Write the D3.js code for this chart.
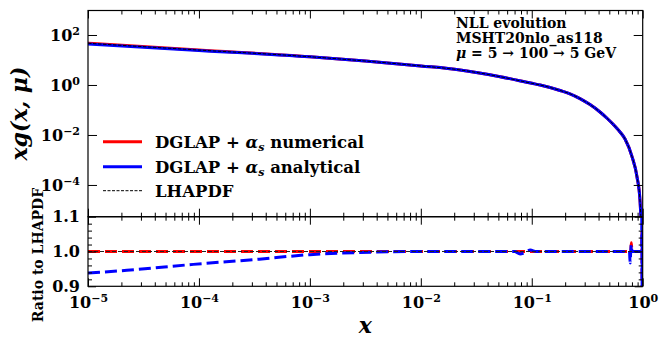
<!DOCTYPE html>
<html>
<head>
<meta charset="utf-8">
<script src="https://cdn.jsdelivr.net/npm/d3@7"></script>
<style>
  body { margin: 0; background: #fff; }
  text { font-family: "DejaVu Serif", serif; font-weight: bold; }
</style>
</head>
<body>
<svg id="chart" width="659" height="337"></svg>
<script>
// values
const xPoints = [1e-5, 1e-4, 1e-3, 3.16e-3, 1e-2, 0.0226, 0.0519, 0.1, 0.119, 0.18, 0.221, 0.272, 0.335, 0.412, 0.477, 0.563, 0.624, 0.693, 0.801, 0.888, 0.945, 0.98];
const xgNumerical = [46.6, 25, 13.5, 9.1, 5.8, 4.0, 2.14, 1.17, 1.0, 0.603, 0.445, 0.286, 0.164, 0.0832, 0.0466, 0.0223, 0.0132, 0.0069, 0.00136, 0.000215, 2.5e-5, 1e-6];
const xgAnalytical = [43.8, 24.1, 13.4, 9.1, 5.8, 4.0, 2.14, 1.17, 1.0, 0.603, 0.445, 0.286, 0.164, 0.0832, 0.0466, 0.0223, 0.0132, 0.0069, 0.00136, 0.000215, 2.5e-5, 1e-6];
const xgLhapdf = [46.6, 25, 13.5, 9.1, 5.8, 4.0, 2.14, 1.17, 1.0, 0.603, 0.445, 0.286, 0.164, 0.0832, 0.0466, 0.0223, 0.0132, 0.0069, 0.00136, 0.000215, 2.5e-5, 1e-6];

const ratioX = [1e-5, 2.24e-5, 8.9e-5, 3.5e-4, 1e-3, 2.8e-3, 1e-2, 0.05, 0.07, 0.0785, 0.088, 0.097, 0.11, 0.3, 0.6, 0.74, 0.76, 0.77, 0.78, 0.79, 0.80, 0.83, 0.9, 0.95, 0.98, 0.983, 0.986, 0.99];
const ratioNumerical = [1, 1, 1, 1, 1, 1, 1, 1, 1, 1, 1, 1, 1, 1, 1, 1, 1, 1, 1, 1.025, 1, 1, 1, 1, 1, 1.0, 1.06, 0.5];
const ratioAnalytical = [0.938, 0.946, 0.963, 0.978, 0.991, 0.997, 1, 1, 1, 0.993, 0.998, 1.004, 1, 1, 1, 1, 1, 0.967, 1, 1.02, 1, 1, 1, 1, 1, 1.3, 0.7, 1.3];
const ratioLhapdf = [1, 1, 1, 1, 1, 1, 1, 1, 1, 1, 1, 1, 1, 1, 1, 1, 1, 1, 1, 1, 1, 1, 1, 1, 1, 1, 1, 1];

const xMajor = [1e-5, 1e-4, 1e-3, 1e-2, 1e-1, 1];
const yMajorTop = [1e-4, 1e-2, 1, 1e2];
const yMajorRatio = [0.9, 1.0, 1.1];
const yMinorRatio = [0.92, 0.94, 0.96, 0.98, 1.02, 1.04, 1.06, 1.08];

const legendLabels = ["numerical", "analytical"];
const noteLines = ["NLL evolution", "MSHT20nlo_as118"];

const left = 88, right = 642.7;
const top1 = 10.5, bot1 = 216.7, bot2 = 286.3;

const svg = d3.select("#chart");

const x = d3.scaleLog().domain([1e-5, 1]).range([left, right]);
const y = d3.scaleLog().domain([Math.pow(10, -5.27), Math.pow(10, 2.98)]).range([bot1, top1]);
const yr = d3.scaleLinear().domain([0.9, 1.1]).range([bot2, bot1]);

const xMinor = [];
for (let e = -5; e < 0; e++) for (let k = 2; k < 10; k++) xMinor.push(k * Math.pow(10, e));

// clip areas
const defs = svg.append("defs");
defs.append("clipPath").attr("id", "clipTop").append("rect")
  .attr("x", left).attr("y", top1).attr("width", right - left).attr("height", bot1 - top1);
defs.append("clipPath").attr("id", "clipBot").append("rect")
  .attr("x", left).attr("y", bot1).attr("width", right - left).attr("height", bot2 - bot1);

function ticks(axisFn, scale, values, size, transform) {
  svg.append("g")
    .attr("transform", transform)
    .call(axisFn(scale).tickValues(values).tickSize(size).tickFormat(""))
    .call(g => g.select(".domain").remove())
    .selectAll("line").attr("stroke", "#000").attr("stroke-width", 1);
}

function powLabel(sel) {
  sel.each(function (d) {
    const t = d3.select(this).text(null);
    const e = Math.round(Math.log10(d));
    t.append("tspan").text("10");
    t.append("tspan").attr("dy", "-0.5em").attr("font-size", "11px")
      .text(e < 0 ? "\u2212" + (-e) : e);
  });
}

// ---- top panel
const gTop = svg.append("g").attr("clip-path", "url(#clipTop)");
const topLine = d3.line()
  .x((d) => x(d[0]))
  .y((d) => y(d[1]))
  .curve(d3.curveMonotoneX);

gTop.append("path").datum(xPoints.map((v, i) => [v, xgNumerical[i]]))
  .attr("d", topLine).attr("fill", "none").attr("stroke", "#ff0000").attr("stroke-width", 3);
gTop.append("path").datum(xPoints.map((v, i) => [v, xgAnalytical[i]]))
  .attr("d", topLine).attr("fill", "none").attr("stroke", "#0000ff").attr("stroke-width", 3);
gTop.append("path").datum(xPoints.map((v, i) => [v, xgLhapdf[i]]))
  .attr("d", topLine).attr("fill", "none").attr("stroke", "#000").attr("stroke-width", 1)
  .attr("stroke-dasharray", "3.5,1.5");

// ---- ratio panel
const gBot = svg.append("g").attr("clip-path", "url(#clipBot)");
const botLine = d3.line()
  .x((d) => x(d[0]))
  .y((d) => yr(d[1]))
  .curve(d3.curveMonotoneX);

gBot.append("path").datum(ratioX.map((v, i) => [v, ratioNumerical[i]]))
  .attr("d", botLine).attr("fill", "none").attr("stroke", "#ff0000").attr("stroke-width", 3)
  .attr("stroke-dasharray", "12,5");
gBot.append("path").datum(ratioX.map((v, i) => [v, ratioAnalytical[i]]))
  .attr("d", botLine).attr("fill", "none").attr("stroke", "#0000ff").attr("stroke-width", 3)
  .attr("stroke-dasharray", "12,5");
gBot.append("path").datum(ratioX.map((v, i) => [v, ratioLhapdf[i]]))
  .attr("d", botLine).attr("fill", "none").attr("stroke", "#222").attr("stroke-width", 1.2)
  .attr("stroke-dasharray", "4,2");

// ---- frames
[[top1, bot1], [bot1, bot2]].forEach(([a, b]) => {
  svg.append("rect").attr("x", left).attr("y", a).attr("width", right - left).attr("height", b - a)
    .attr("fill", "none").attr("stroke", "#000").attr("stroke-width", 1.2);
});

// ---- x ticks (inward) on all four horizontal edges
ticks(d3.axisTop, x, xMajor, -8, `translate(0,${top1})`);
ticks(d3.axisTop, x, xMinor, -4, `translate(0,${top1})`);
ticks(d3.axisBottom, x, xMajor, -8, `translate(0,${bot1})`);
ticks(d3.axisBottom, x, xMinor, -4, `translate(0,${bot1})`);
ticks(d3.axisTop, x, xMajor, -8, `translate(0,${bot1})`);
ticks(d3.axisTop, x, xMinor, -4, `translate(0,${bot1})`);
ticks(d3.axisBottom, x, xMajor, -8, `translate(0,${bot2})`);
ticks(d3.axisBottom, x, xMinor, -4, `translate(0,${bot2})`);

// ---- y ticks
ticks(d3.axisLeft, y, yMajorTop, -9, `translate(${left},0)`);
ticks(d3.axisRight, y, yMajorTop, -9, `translate(${right},0)`);
ticks(d3.axisLeft, yr, yMajorRatio, -8, `translate(${left},0)`);
ticks(d3.axisRight, yr, yMajorRatio, -8, `translate(${right},0)`);
ticks(d3.axisLeft, yr, yMinorRatio, -4, `translate(${left},0)`);
ticks(d3.axisRight, yr, yMinorRatio, -4, `translate(${right},0)`);

// ---- tick labels
svg.append("g").attr("transform", `translate(0,${bot2})`)
  .call(d3.axisBottom(x).tickValues(xMajor).tickSize(0).tickPadding(10))
  .call(g => g.select(".domain").remove())
  .selectAll(".tick text").attr("font-size", "16px").attr("fill", "#000").call(powLabel);

svg.append("g").attr("transform", `translate(${left},0)`)
  .call(d3.axisLeft(y).tickValues(yMajorTop).tickSize(0).tickPadding(8))
  .call(g => g.select(".domain").remove())
  .selectAll(".tick text").attr("font-size", "16px").attr("fill", "#000").call(powLabel);

svg.append("g").attr("transform", `translate(${left},0)`)
  .call(d3.axisLeft(yr).tickValues(yMajorRatio).tickSize(0).tickPadding(8).tickFormat(d3.format(".1f")))
  .call(g => g.select(".domain").remove())
  .selectAll(".tick text").attr("font-size", "16px").attr("fill", "#000");

// axis titles
svg.append("text")
  .attr("transform", `translate(27,${(top1 + bot1) / 2}) rotate(-90)`)
  .attr("text-anchor", "middle").attr("font-size", "22px").attr("font-style", "italic")
  .text("xg(x, \u03bc)");

svg.append("text")
  .attr("transform", `translate(43,255) rotate(-90)`)
  .attr("text-anchor", "middle").attr("font-size", "14px")
  .text("Ratio to LHAPDF");

svg.append("text").attr("x", (left + right) / 2).attr("y", 333)
  .attr("text-anchor", "middle").attr("font-size", "22px").attr("font-style", "italic")
  .text("x");

// ---- annotation
noteLines.forEach((s, i) => {
  svg.append("text").attr("x", 456).attr("y", 28.3 + i * 15).attr("font-size", "14px").text(s);
});
const mu = svg.append("text").attr("x", 456).attr("y", 58.3).attr("font-size", "14px");
mu.append("tspan").attr("font-style", "italic").text("\u03bc");
mu.append("tspan").text(" = 5 \u2192 100 \u2192 5 GeV");

// ---- legend
const legendColors = ["#ff0000", "#0000ff"];
legendLabels.forEach((s, i) => {
  const ly = 141.7 + i * 25;
  svg.append("line").attr("x1", 103).attr("x2", 142).attr("y1", ly).attr("y2", ly)
    .attr("stroke", legendColors[i]).attr("stroke-width", 3);
  const t = svg.append("text").attr("x", 155).attr("y", ly + 6).attr("font-size", "16.5px");
  t.append("tspan").text("DGLAP + ");
  t.append("tspan").attr("font-style", "italic").text("\u03b1");
  t.append("tspan").attr("font-size", "11px").attr("font-style", "italic").attr("dy", "3").text("s");
  t.append("tspan").attr("dy", "-3").text(" " + s);
});
svg.append("line").attr("x1", 103).attr("x2", 142).attr("y1", 190.7).attr("y2", 190.7)
  .attr("stroke", "#000").attr("stroke-width", 1).attr("stroke-dasharray", "3,1.5");
svg.append("text").attr("x", 155).attr("y", 196.7).attr("font-size", "16.5px").text("LHAPDF");
</script>
</body>
</html>
